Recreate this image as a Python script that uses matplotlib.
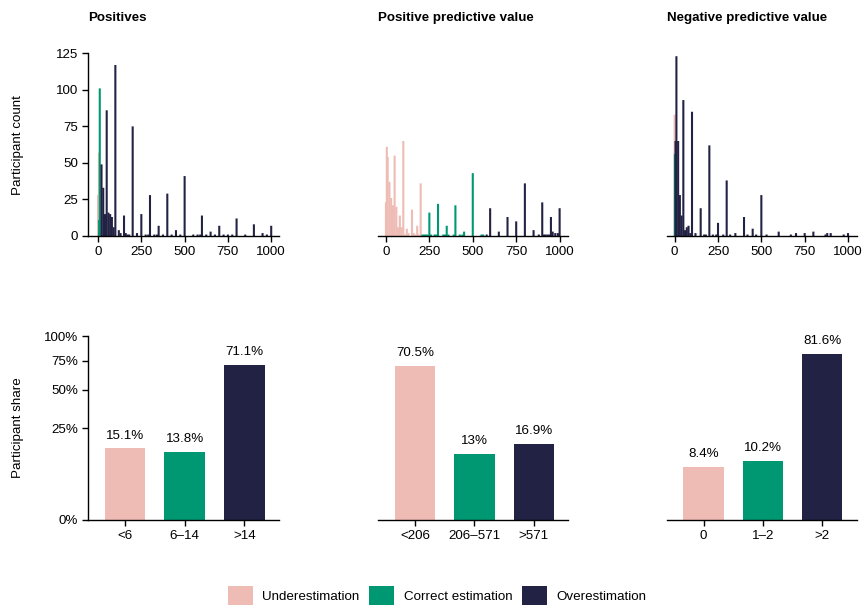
import numpy as np
import matplotlib
matplotlib.use('Agg')
import matplotlib.pyplot as plt
from matplotlib.patches import Patch

plt.rcParams['font.family'] = ['Liberation Sans', 'DejaVu Sans']

PINK = '#EFBBB5'
GREEN = '#009872'
NAVY = '#222244'
COLORS = [PINK, GREEN, NAVY]

titles = ['Positives', 'Positive predictive value', 'Negative predictive value']
legend_labels = ['Underestimation', 'Correct estimation', 'Overestimation']

# ---- Histogram data (estimate value -> participant count) ----
# Positives
pos_under_x = [0, 5]
pos_under_n = [28, 57]
pos_correct_x = [6, 10]
pos_correct_n = [11, 101]
pos_over_x = [20, 30, 40, 50, 60, 70, 75, 80, 90, 100, 120, 130, 150, 160, 170, 180,
              200, 225, 250, 275, 290, 300, 325, 340, 350, 375, 400, 425, 450, 475,
              500, 550, 575, 590, 600, 625, 650, 675, 700, 725, 750, 775, 800, 850,
              900, 950, 975, 1000]
pos_over_n = [49, 33, 15, 86, 16, 15, 7, 13, 6, 117, 4, 2, 14, 2, 1, 1,
              75, 2, 15, 1, 1, 28, 1, 1, 7, 1, 29, 1, 4, 1,
              41, 1, 1, 1, 14, 1, 3, 1, 7, 1, 1, 1, 12, 1,
              8, 2, 1, 7]

# Positive predictive value
ppv_under_x = [0, 5, 10, 20, 30, 40, 50, 60, 70, 80, 90, 100, 110, 120, 130, 150,
               160, 170, 180, 190, 200]
ppv_under_n = [23, 61, 54, 37, 26, 21, 55, 20, 6, 14, 6, 65, 1, 5, 2, 18,
               2, 1, 7, 1, 36]
ppv_correct_x = [210, 220, 230, 240, 250, 260, 280, 290, 300, 330, 340, 350, 360,
                 390, 400, 425, 440, 450, 500, 550, 560]
ppv_correct_n = [1, 1, 1, 1, 16, 1, 1, 1, 22, 1, 1, 7, 1,
                 1, 21, 1, 1, 3, 43, 1, 1]
ppv_over_x = [580, 600, 650, 700, 750, 800, 850, 880, 900, 910, 920, 930, 940,
              950, 960, 975, 990, 1000]
ppv_over_n = [1, 19, 3, 13, 10, 36, 4, 1, 23, 1, 1, 1, 1,
              13, 3, 2, 2, 19]

# Negative predictive value
npv_under_x = [0]
npv_under_n = [83]
npv_correct_x = [1]
npv_correct_n = [56]
npv_over_x = [5, 10, 20, 30, 40, 50, 60, 70, 80, 90, 100, 120, 150, 170, 180,
              200, 220, 240, 250, 280, 300, 320, 350, 400, 420, 450, 470, 500, 530,
              600, 670, 700, 750, 800, 870, 880, 900, 975, 1000]
npv_over_n = [65, 123, 65, 28, 14, 93, 4, 6, 7, 2, 85, 2, 19, 1, 1,
              62, 1, 1, 9, 1, 38, 1, 2, 13, 1, 5, 1, 28, 1,
              3, 1, 2, 2, 3, 1, 2, 2, 1, 2]

hist_data = [
    [(pos_under_x, pos_under_n), (pos_correct_x, pos_correct_n), (pos_over_x, pos_over_n)],
    [(ppv_under_x, ppv_under_n), (ppv_correct_x, ppv_correct_n), (ppv_over_x, ppv_over_n)],
    [(npv_under_x, npv_under_n), (npv_correct_x, npv_correct_n), (npv_over_x, npv_over_n)],
]
hist_xticks = [0, 250, 500, 750, 1000]
hist_yticks = [0, 25, 50, 75, 100, 125]

# ---- Share data ----
share_cats = [['<6', '6–14', '>14'], ['<206', '206–571', '>571'], ['0', '1–2', '>2']]
shares = [[15.1, 13.8, 71.1], [70.5, 13, 16.9], [8.4, 10.2, 81.6]]
share_yticks = [0, 25, 50, 75, 100]

W, H = 863, 605
fig = plt.figure(figsize=(W / 100, H / 100), dpi=100)

col_left = [88.0, 378.3, 666.7]
col_width = [191.0, 190.0, 190.0]
hist_xlims = [(-58, 1045), (-44, 1050), (-46, 1050)]

FS = 9.6
LW = 1.0

def style(ax, show_y):
    for s in ['top', 'right']:
        ax.spines[s].set_visible(False)
    ax.spines['left'].set_visible(show_y)
    for s in ['left', 'bottom']:
        ax.spines[s].set_linewidth(LW)
    ax.tick_params(axis='both', direction='out', length=4, width=LW,
                   labelsize=FS, pad=3, colors='black')
    if not show_y:
        ax.tick_params(axis='y', left=False, labelleft=False)

# Top row
for i in range(3):
    ax = fig.add_axes([col_left[i] / W, 1 - 236 / H, col_width[i] / W, (236 - 53.3) / H])
    for (xs, ns), c in zip(hist_data[i], COLORS):
        bars = ax.bar(xs, ns, width=12, color=c, linewidth=0, align='center')
        for b in bars:
            b.set_snap(False)
    ax.set_xlim(*hist_xlims[i])
    ax.set_ylim(0, 125)
    ax.set_xticks(hist_xticks)
    ax.set_yticks(hist_yticks)
    style(ax, i == 0)
    fig.text(col_left[i] / W, 1 - 18.3 / H, titles[i], fontsize=FS,
             fontweight='bold', ha='left', va='center')

# Bottom row
for i in range(3):
    ax = fig.add_axes([col_left[i] / W, 1 - 520 / H, col_width[i] / W, (520 - 336) / H])
    ax.set_yscale('function', functions=(np.sqrt, np.square))
    xs = np.arange(len(share_cats[i]))
    vals = np.array(shares[i]) / 100.0
    ax.bar(xs, vals, width=0.68, color=COLORS, linewidth=0)
    for x, v, raw in zip(xs, vals, shares[i]):
        ax.annotate(f'{raw:g}%', (x, v), xytext=(0, 5), textcoords='offset points',
                    ha='center', va='bottom', fontsize=FS)
    ax.set_xlim(-0.62, 2.58)
    ax.set_ylim(0, 1)
    ax.set_xticks(xs)
    ax.set_xticklabels(share_cats[i])
    ax.set_yticks([t / 100 for t in share_yticks])
    ax.set_yticklabels([f'{t}%' for t in share_yticks])
    style(ax, i == 0)

fig.text(18 / W, 1 - 145 / H, 'Participant count', rotation=90, fontsize=FS,
         ha='center', va='center')
fig.text(18 / W, 1 - 428 / H, 'Participant share', rotation=90, fontsize=FS,
         ha='center', va='center')

handles = [Patch(facecolor=c, edgecolor='none') for c in COLORS]
fig.legend(handles, legend_labels, loc='center', bbox_to_anchor=(437 / W, 1 - 596 / H),
           ncol=3, frameon=False, fontsize=9.6, handlelength=1.875, handleheight=1.95,
           handletextpad=0.72, columnspacing=0.72, borderpad=0, borderaxespad=0)

fig.savefig('out.png', dpi=100)
